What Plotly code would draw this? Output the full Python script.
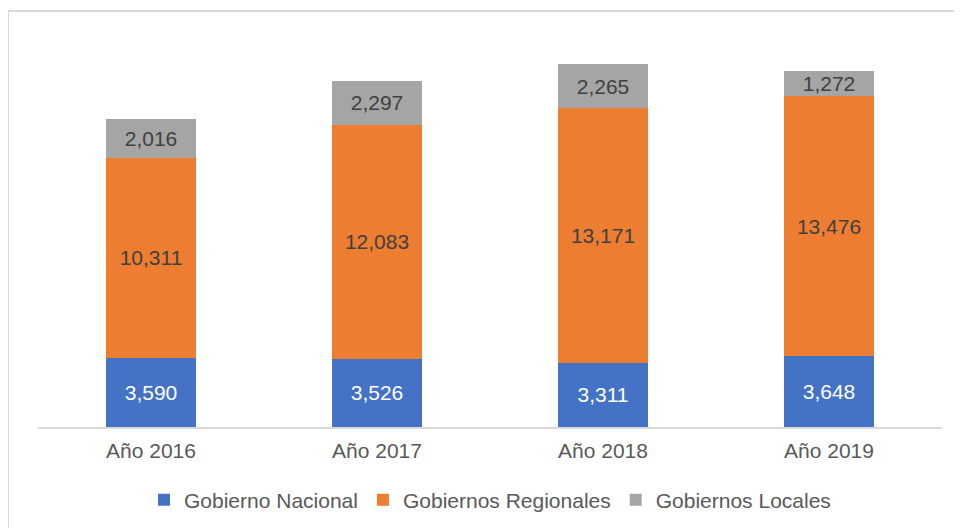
import plotly.graph_objects as go

years = ["Año 2016", "Año 2017", "Año 2018", "Año 2019"]
nacional = [3590, 3526, 3311, 3648]
regionales = [10311, 12083, 13171, 13476]
locales = [2016, 2297, 2265, 1272]

series = [
    ("Gobierno Nacional", nacional, "#4472C4", "#FFFFFF"),
    ("Gobiernos Regionales", regionales, "#ED7D31", "#404040"),
    ("Gobiernos Locales", locales, "#A5A5A5", "#404040"),
]

FONT = "Liberation Sans, Arial, sans-serif"

fig = go.Figure()
for name, vals, color, tcolor in series:
    fig.add_trace(go.Bar(
        name=name, x=years, y=vals,
        marker=dict(color=color, line=dict(width=0)),
        texttemplate="%{y:,}", textposition="inside",
        insidetextanchor="middle", constraintext="none",
        textfont=dict(family=FONT, size=21, color=tcolor),
        hoverinfo="skip",
    ))

# page body has an 8px default margin; figure is sized so it fills the window
fig.update_layout(
    barmode="stack", bargap=0.6,
    width=954, height=520,
    margin=dict(l=30, r=20, t=32, b=101, autoexpand=False),
    paper_bgcolor="white", plot_bgcolor="white",
    font=dict(family=FONT, size=21, color="#595959"),
    showlegend=True,
    legend=dict(orientation="h", x=0.5, xanchor="center",
                yref="container", y=28 / 520, yanchor="middle",
                font=dict(size=21, color="#595959"), traceorder="normal"),
    uniformtext=dict(mode="show", minsize=21),
)
fig.update_xaxes(showline=True, linecolor="#D9D9D9", linewidth=2, ticks="",
                 ticklabelstandoff=4, automargin=False,
                 tickfont=dict(size=21, color="#595959"), showgrid=False)
fig.update_yaxes(range=[0, 20000], visible=False, showgrid=False)

fig.add_shape(type="rect", xref="paper", yref="paper",
              x0=-30 / 904, x1=1.2, y0=-0.5, y1=(419 - 3) / 387,
              line=dict(color="#D9D9D9", width=2), fillcolor="rgba(0,0,0,0)", layer="below")

fig.write_html("out.html")
